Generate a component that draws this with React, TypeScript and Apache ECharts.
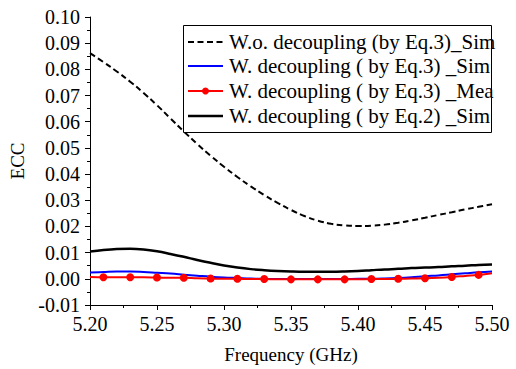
import React, { useEffect, useRef } from "react";
import * as echarts from "echarts";

const freqs = [5.2, 5.21, 5.22, 5.23, 5.24, 5.25, 5.26, 5.27, 5.28, 5.29, 5.3, 5.31, 5.32, 5.33, 5.34, 5.35, 5.36, 5.37, 5.38, 5.39, 5.4, 5.41, 5.42, 5.43, 5.44, 5.45, 5.46, 5.47, 5.48, 5.49, 5.5];

const woEq3Sim = [0.0862, 0.0828, 0.0792, 0.0753, 0.0710, 0.0663, 0.0613, 0.0563, 0.0515, 0.0470, 0.0428, 0.0389, 0.0353, 0.0320, 0.0290, 0.0263, 0.0240, 0.0222, 0.0210, 0.0204, 0.0202, 0.0203, 0.0207, 0.0214, 0.0223, 0.0233, 0.0244, 0.0254, 0.0265, 0.0275, 0.0285];
const wEq3Sim = [0.0024, 0.0026, 0.0028, 0.0028, 0.0026, 0.0023, 0.0020, 0.0016, 0.0012, 0.0008, 0.0005, 0.0003, 0.0001, 0.0000, -0.0001, -0.0001, -0.0001, -0.0001, -0.0001, -0.0001, 0.0000, 0.0000, 0.0001, 0.0003, 0.0006, 0.0010, 0.0013, 0.0017, 0.0021, 0.0025, 0.0028];
const wEq3Mea = [0.0007, 0.0006, 0.0006, 0.0006, 0.0006, 0.0005, 0.0004, 0.0004, 0.0002, 0.0001, 0.0000, 0.0000, -0.0001, -0.0001, -0.0002, -0.0002, -0.0002, -0.0002, -0.0002, -0.0002, -0.0002, -0.0001, -0.0001, 0.0000, 0.0001, 0.0002, 0.0004, 0.0007, 0.0011, 0.0015, 0.0021];
const wEq2Sim = [0.0104, 0.0110, 0.0114, 0.0115, 0.0112, 0.0105, 0.0095, 0.0084, 0.0072, 0.0061, 0.0051, 0.0043, 0.0037, 0.0033, 0.0030, 0.0028, 0.0027, 0.0027, 0.0027, 0.0028, 0.0030, 0.0033, 0.0036, 0.0038, 0.0041, 0.0043, 0.0045, 0.0048, 0.0050, 0.0053, 0.0055];

const legendNames = [
  "W.o. decoupling (by Eq.3)_Sim",
  "W. decoupling ( by Eq.3) _Sim",
  "W. decoupling ( by Eq.3) _Mea",
  "W. decoupling ( by Eq.2) _Sim",
];

const FONT = "Liberation Serif";

export default function App() {
  const ref = useRef<HTMLDivElement>(null);
  useEffect(() => {
    if (!ref.current) return;
    const chart = echarts.init(ref.current, undefined, { renderer: "svg" });
    const pairs = (arr: number[]) => freqs.map((f, i) => [f, arr[i]]);
    const meaData = freqs.map((f, i) => ({
      value: [f, wEq3Mea[i]],
      symbol: i % 2 === 1 ? "circle" : "none",
    }));

    const rowY = [42, 66, 91, 116];
    const x0 = 188;
    const x1 = 223;
    const tx = 229;
    const legendEls: any[] = [
      {
        type: "rect",
        shape: { x: 183.5, y: 25.5, width: 308, height: 107 },
        style: { fill: "#fff", stroke: "#000", lineWidth: 1 },
        z: 100,
      },
    ];
    const styles = [
      { stroke: "#000", lineWidth: 2, lineDash: [6, 3.5] },
      { stroke: "#0000ff", lineWidth: 2 },
      { stroke: "#ff0000", lineWidth: 2 },
      { stroke: "#000", lineWidth: 2.5 },
    ];
    rowY.forEach((y, i) => {
      legendEls.push({
        type: "line",
        shape: { x1: x0, y1: y, x2: x1, y2: y },
        style: styles[i],
        z: 101,
      });
      if (i === 2) {
        legendEls.push({
          type: "circle",
          shape: { cx: (x0 + x1) / 2, cy: y, r: 3.5 },
          style: { fill: "#ff0000" },
          z: 102,
        });
      }
      legendEls.push({
        type: "text",
        x: tx,
        y: y,
        style: {
          text: legendNames[i],
          font: `21px "${FONT}"`,
          fill: "#000",
          verticalAlign: "middle",
        },
        z: 101,
      });
    });

    chart.setOption({
      animation: false,
      backgroundColor: "#fff",
      textStyle: { fontFamily: FONT },
      grid: { left: 90, top: 17, right: 24, bottom: 52, containLabel: false },
      xAxis: {
        type: "value",
        min: 5.2,
        max: 5.5,
        interval: 0.05,
        name: "Frequency (GHz)",
        nameLocation: "middle",
        nameGap: 40,
        nameTextStyle: { fontFamily: FONT, fontSize: 19, color: "#000" },
        axisLine: { show: true, onZero: false, lineStyle: { color: "#000", width: 1 } },
        axisTick: { show: true, length: 5, inside: false, lineStyle: { color: "#000" } },
        minorTick: { show: true, splitNumber: 2, length: 3, lineStyle: { color: "#000" } },
        splitLine: { show: false },
        axisLabel: {
          fontFamily: FONT,
          fontSize: 20,
          color: "#000",
          margin: 9,
          formatter: (v: number) => v.toFixed(2),
        },
      },
      yAxis: {
        type: "value",
        min: -0.01,
        max: 0.1,
        interval: 0.01,
        name: "ECC",
        nameLocation: "middle",
        nameGap: 60,
        nameTextStyle: { fontFamily: FONT, fontSize: 19, color: "#000" },
        axisLine: { show: true, onZero: false, lineStyle: { color: "#000", width: 1 } },
        axisTick: { show: true, length: 5, inside: false, lineStyle: { color: "#000" } },
        minorTick: { show: true, splitNumber: 2, length: 3, lineStyle: { color: "#000" } },
        splitLine: { show: false },
        axisLabel: {
          fontFamily: FONT,
          fontSize: 20,
          color: "#000",
          margin: 10,
          formatter: (v: number) => v.toFixed(2),
        },
      },
      series: [
        {
          name: legendNames[0],
          type: "line",
          data: pairs(woEq3Sim),
          smooth: 0.4,
          showSymbol: false,
          symbol: "none",
          lineStyle: { color: "#000", width: 2, type: [6, 3.5] },
          z: 2,
        },
        {
          name: legendNames[3],
          type: "line",
          data: pairs(wEq2Sim),
          smooth: 0.4,
          showSymbol: false,
          symbol: "none",
          lineStyle: { color: "#000", width: 2.5 },
          z: 3,
        },
        {
          name: legendNames[1],
          type: "line",
          data: pairs(wEq3Sim),
          smooth: 0.4,
          showSymbol: false,
          symbol: "none",
          lineStyle: { color: "#0000ff", width: 2 },
          z: 4,
        },
        {
          name: legendNames[2],
          type: "line",
          data: meaData,
          smooth: 0.4,
          showSymbol: true,
          symbolSize: 8,
          itemStyle: { color: "#ff0000" },
          lineStyle: { color: "#ff0000", width: 2 },
          z: 5,
        },
      ],
      graphic: legendEls,
    });
    return () => chart.dispose();
  }, []);
  return (
    <div
      ref={ref}
      style={{ position: "fixed", left: 0, top: 0, width: 516, height: 369, background: "#fff" }}
    />
  );
}
